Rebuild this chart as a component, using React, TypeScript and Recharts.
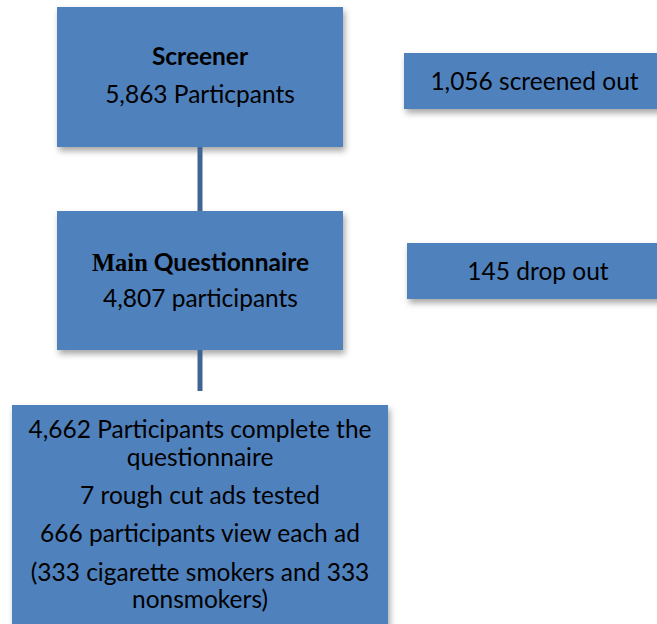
import React from "react";
import {
  ComposedChart,
  XAxis,
  YAxis,
  ReferenceArea,
  ReferenceLine,
} from "recharts";

// flow data
const stageTitles = ["Screener", "Main Questionnaire"];
const stageCounts = [5863, 4807, 4662];
const exitLabels = ["screened out", "drop out"];
const exitCounts = [1056, 145];
const adsTested = [7];
const viewersPerAd = [666];
const viewerGroups = [333, 333];

const W = 657;
const H = 624;
const FILL = "#4f81bd";
const FONT = "Lato, 'Open Sans', sans-serif";

const fmt = (n: number) => n.toLocaleString("en-US");

type Line = { text: React.ReactNode; bold?: boolean };

// box geometry in chart units (layout only)
const boxes = [
  { x1: 57, x2: 343, y1: 7, y2: 147, cx: 200, baselines: [65, 103] },
  { x1: 404, x2: 670, y1: 53, y2: 109, cx: 534.5, baselines: [90] },
  { x1: 57, x2: 343, y1: 211, y2: 350, cx: 200.5, baselines: [271, 307] },
  { x1: 407, x2: 670, y1: 243, y2: 299, cx: 538, baselines: [280] },
  { x1: 12, x2: 388, y1: 405, y2: 640, cx: 200, baselines: [438, 466, 504, 542, 581, 608] },
];
const connectors = [
  { x: 200, y1: 147, y2: 211 },
  { x: 200, y1: 350, y2: 391 },
];

const boxLines: Line[][] = [
  [
    { text: stageTitles[0], bold: true },
    { text: `${fmt(stageCounts[0])} Particpants` },
  ],
  [{ text: `${fmt(exitCounts[0])} ${exitLabels[0]}` }],
  [
    {
      text: (
        <>
          <tspan fontFamily="'Liberation Serif', serif">Main</tspan>
          <tspan> Questionnaire</tspan>
        </>
      ),
      bold: true,
    },
    { text: `${fmt(stageCounts[1])} participants` },
  ],
  [{ text: `${fmt(exitCounts[1])} ${exitLabels[1]}` }],
  [
    { text: `${fmt(stageCounts[2])} Participants complete the` },
    { text: "questionnaire" },
    { text: `${adsTested[0]} rough cut ads tested` },
    { text: `${viewersPerAd[0]} participants view each ad` },
    { text: `(${viewerGroups[0]} cigarette smokers and ${viewerGroups[1]}` },
    { text: "nonsmokers)" },
  ],
];

const BoxText = ({ viewBox, lines, baselines, cx }: any) => {
  if (!viewBox) return null;
  const top = viewBox.y;
  return (
    <g>
      {lines.map((l: Line, i: number) => (
        <text
          key={i}
          x={cx}
          y={top + baselines[i]}
          textAnchor="middle"
          fontFamily={FONT}
          fontSize={24.5}
          fontWeight={l.bold ? 700 : 400}
          fill="#000"
        >
          {l.text}
        </text>
      ))}
    </g>
  );
};

const BoxShape = (p: any) => (
  <rect
    x={p.x}
    y={p.y}
    width={p.width}
    height={p.height}
    fill={FILL}
    filter="url(#boxShadow)"
  />
);

export default function App() {
  return (
    <div style={{ position: "absolute", left: 0, top: 0, background: "#fff" }}>
      <ComposedChart
        width={W}
        height={H}
        data={[]}
        margin={{ top: 0, right: 0, bottom: 0, left: 0 }}
      >
        <defs>
          <filter id="boxShadow" x="-10%" y="-10%" width="125%" height="135%">
            <feDropShadow dx="2" dy="4" stdDeviation="3" floodColor="#000" floodOpacity="0.35" />
          </filter>
        </defs>
        <XAxis type="number" dataKey="x" domain={[0, W]} hide allowDataOverflow />
        <YAxis type="number" dataKey="y" domain={[0, H]} reversed hide allowDataOverflow />
        {connectors.map((c, i) => (
          <ReferenceLine
            key={`c${i}`}
            segment={[
              { x: c.x, y: c.y1 },
              { x: c.x, y: c.y2 },
            ]}
            stroke="#3f6593"
            strokeWidth={5}
            ifOverflow="visible"
          />
        ))}
        {boxes.map((b, i) => (
          <ReferenceArea
            key={`b${i}`}
            x1={b.x1}
            x2={b.x2}
            y1={b.y1}
            y2={b.y2}
            ifOverflow="visible"
            shape={<BoxShape />}
            label={
              <BoxText
                lines={boxLines[i]}
                baselines={b.baselines.map((v) => v - b.y1)}
                cx={b.cx}
              />
            }
          />
        ))}
      </ComposedChart>
    </div>
  );
}
